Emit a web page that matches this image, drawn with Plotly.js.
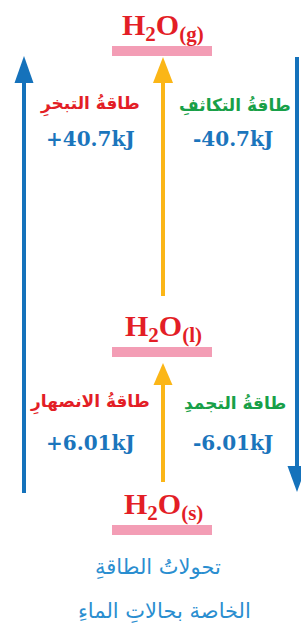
<!DOCTYPE html>
<html>
<head>
<meta charset="utf-8">
<script src="https://cdn.plot.ly/plotly-3.0.1.min.js"></script>
<style>html,body{margin:0;padding:0;background:#fff;}#chart{width:301px;height:631px;}</style>
</head>
<body>
<div id="chart"></div>
<script>
// ---- data ----
const states = ['H<sub>2</sub>O<sub>(g)</sub>', 'H<sub>2</sub>O<sub>(l)</sub>', 'H<sub>2</sub>O<sub>(s)</sub>'];
const absorbLabels = ['طاقةُ التبخرِ', 'طاقةُ الانصهارِ'];
const releaseLabels = ['طاقةُ التكاثفِ', 'طاقةُ التجمدِ'];
const energies = [40.7, 6.01];
const unit = 'kJ';
const caption = ['تحولاتُ الطاقةِ', 'الخاصة بحالاتِ الماءِ'];

// ---- layout geometry (pixel-like coordinates) ----
const W = 301, H = 631;
const levelY = [51, 352, 530];
const barX = [112, 212];
const centerX = 163;
const leftX = 24, rightX = 297;
const colors = {
  bar: '#f39db5', yellow: '#fbb617', blue: '#1572bb', red: '#e31e26',
  green: '#18a048', num: '#1b75bc', caption: '#2a8ed0'
};

const shapes = [];
const annotations = [];

function arrow(x, yFrom, yTo, color, headLen, halfW, width) {
  const dir = yTo < yFrom ? -1 : 1; // -1 = up
  const base = yTo - dir * headLen;
  shapes.push({type: 'line', xref: 'x', yref: 'y', x0: x, x1: x, y0: yFrom, y1: base,
    line: {color: color, width: width}});
  shapes.push({type: 'path', xref: 'x', yref: 'y',
    path: `M${x - halfW},${base} L${x + halfW},${base} L${x},${yTo} Z`,
    fillcolor: color, line: {color: color, width: 0}});
}

// level bars
levelY.forEach(y => {
  shapes.push({type: 'rect', xref: 'x', yref: 'y', x0: barX[0], x1: barX[1], y0: y - 5, y1: y + 5,
    fillcolor: colors.bar, line: {width: 0}});
});

// yellow arrows between levels (upwards)
arrow(centerX, levelY[1] - 56, levelY[0] + 6, colors.yellow, 26, 10, 4);
arrow(centerX, levelY[2] - 48, levelY[1] + 11, colors.yellow, 22, 9.5, 4);

// blue arrows (overall)
arrow(leftX, levelY[2] - 37, levelY[0] + 5, colors.blue, 27, 9.5, 4);
arrow(rightX, levelY[0] + 6, levelY[2] - 38, colors.blue, 26, 9.5, 4);

// state labels
states.forEach((s, i) => {
  annotations.push({x: centerX, y: levelY[i] - 24, xref: 'x', yref: 'y', text: s, showarrow: false,
    font: {family: 'Liberation Serif', size: 30, color: colors.red, weight: 'bold'}});
});

// transition labels
const transY = [[105, 139], [403, 443]];
energies.forEach((e, i) => {
  annotations.push({x: 90, y: transY[i][0], xref: 'x', yref: 'y', text: absorbLabels[i], showarrow: false,
    font: {family: 'DejaVu Sans', size: 17, color: colors.red, weight: 'bold'}});
  annotations.push({x: 235, y: transY[i][0], xref: 'x', yref: 'y', text: releaseLabels[i], showarrow: false,
    font: {family: 'DejaVu Sans', size: 17, color: colors.green, weight: 'bold'}});
  annotations.push({x: 90, y: transY[i][1], xref: 'x', yref: 'y', text: '+' + e + unit, showarrow: false,
    font: {family: 'DejaVu Serif', size: 20, color: colors.num, weight: 'bold'}});
  annotations.push({x: 233, y: transY[i][1], xref: 'x', yref: 'y', text: '-' + e + unit, showarrow: false,
    font: {family: 'DejaVu Serif', size: 20, color: colors.num, weight: 'bold'}});
});

// caption
const capX = [158, 164];
const capY = [567, 611];
caption.forEach((c, i) => {
  annotations.push({x: capX[i], y: capY[i], xref: 'x', yref: 'y', text: c, showarrow: false,
    font: {family: 'DejaVu Sans', size: 21, color: colors.caption}});
});

const layout = {
  width: W, height: H,
  margin: {l: 0, r: 0, t: 0, b: 0},
  paper_bgcolor: '#fff', plot_bgcolor: '#fff',
  xaxis: {range: [0, W], visible: false, fixedrange: true},
  yaxis: {range: [H, 0], visible: false, fixedrange: true},
  showlegend: false,
  shapes: shapes,
  annotations: annotations
};

Plotly.newPlot('chart', [{x: [], y: [], type: 'scatter', hoverinfo: 'skip'}], layout, {displayModeBar: false, staticPlot: true});
</script>
</body>
</html>
